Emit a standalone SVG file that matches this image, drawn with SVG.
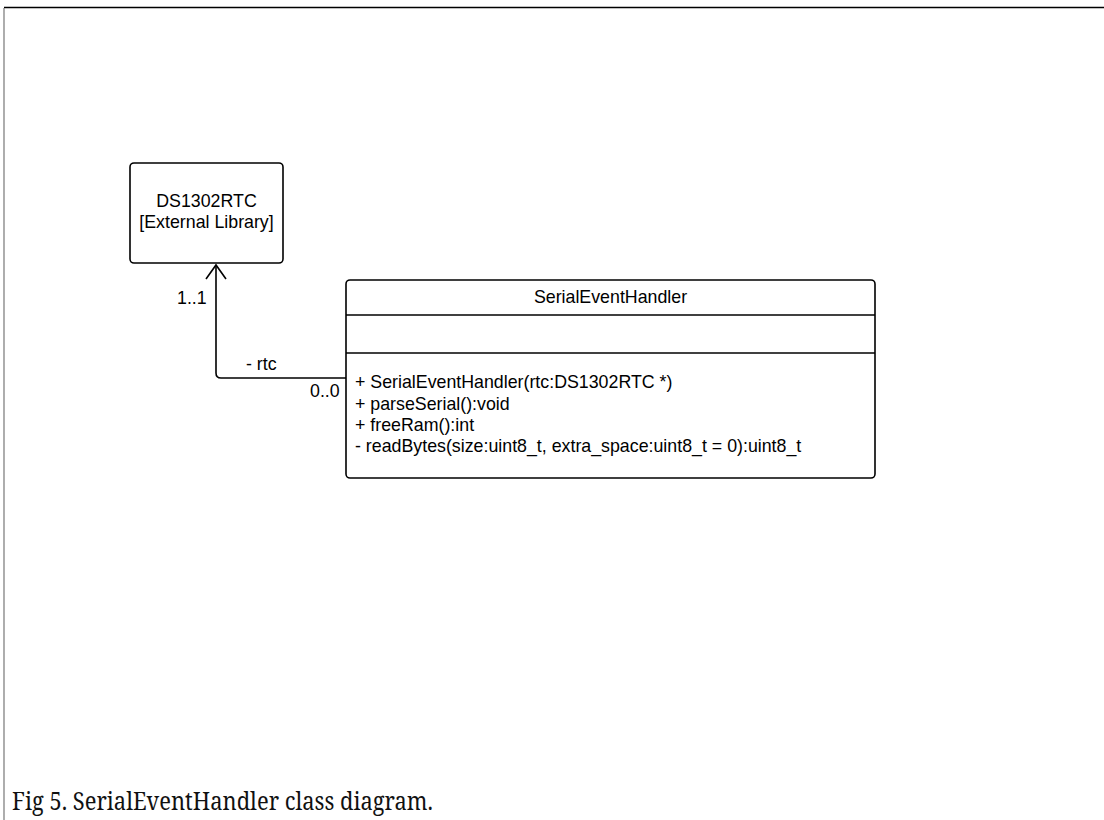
<svg xmlns="http://www.w3.org/2000/svg" width="1104" height="820" viewBox="0 0 1104 820">
  <style>
    .box { fill: #ffffff; stroke: #000000; stroke-width: 1.6; }
    .div { stroke: #000000; stroke-width: 1.3; }
    .lbl { font-family: "Liberation Sans", Arial, sans-serif; font-size: 17.8px; fill: #000000; }
    .mid { text-anchor: middle; }
    .edge { fill: none; stroke: #000000; stroke-width: 1.6; }
    .cap { font-family: "Noto Serif", "DejaVu Serif", "Liberation Serif", serif; font-size: 26px; fill: #111111; }
  </style>
  <rect x="0" y="0" width="1104" height="820" fill="#ffffff"/>

  <!-- page frame -->
  <line x1="4" y1="7.5" x2="1104" y2="7.5" stroke="#000000" stroke-width="1.5"/>
  <line x1="4" y1="8" x2="4" y2="820" stroke="#777777" stroke-width="1.2"/>

  <!-- association with open arrowhead -->
  <g id="connectors">
    <path class="edge" d="M346,378 L221,378 Q216,378 216,373 L216,265"/>
    <path class="edge" d="M206,279 L216,265 L226,279"/>
    <text class="lbl" x="177" y="304">1..1</text>
    <text class="lbl" x="246" y="370">- rtc</text>
    <text class="lbl" x="310" y="397">0..0</text>
  </g>

  <g id="ds1302rtc">
    <rect class="box" x="130" y="163" width="153" height="100" rx="4"/>
    <text class="lbl mid" x="206.5" y="207">DS1302RTC</text>
    <text class="lbl mid" x="206.5" y="228">[External Library]</text>
  </g>

  <g id="serialeventhandler">
    <rect class="box" x="346" y="280" width="529" height="198" rx="4"/>
    <line class="div" x1="346" y1="315" x2="875" y2="315"/>
    <line class="div" x1="346" y1="353" x2="875" y2="353"/>
    <text class="lbl mid" x="610.5" y="303">SerialEventHandler</text>
    <text class="lbl" x="355" y="388">+ SerialEventHandler(rtc:DS1302RTC *)</text>
    <text class="lbl" x="355" y="409.5">+ parseSerial():void</text>
    <text class="lbl" x="355" y="431">+ freeRam():int</text>
    <text class="lbl" x="355" y="452">- readBytes(size:uint8_t, extra_space:uint8_t = 0):uint8_t</text>
  </g>

  <text class="cap" x="12" y="810" textLength="421" lengthAdjust="spacingAndGlyphs">Fig 5. SerialEventHandler class diagram.</text>
</svg>
